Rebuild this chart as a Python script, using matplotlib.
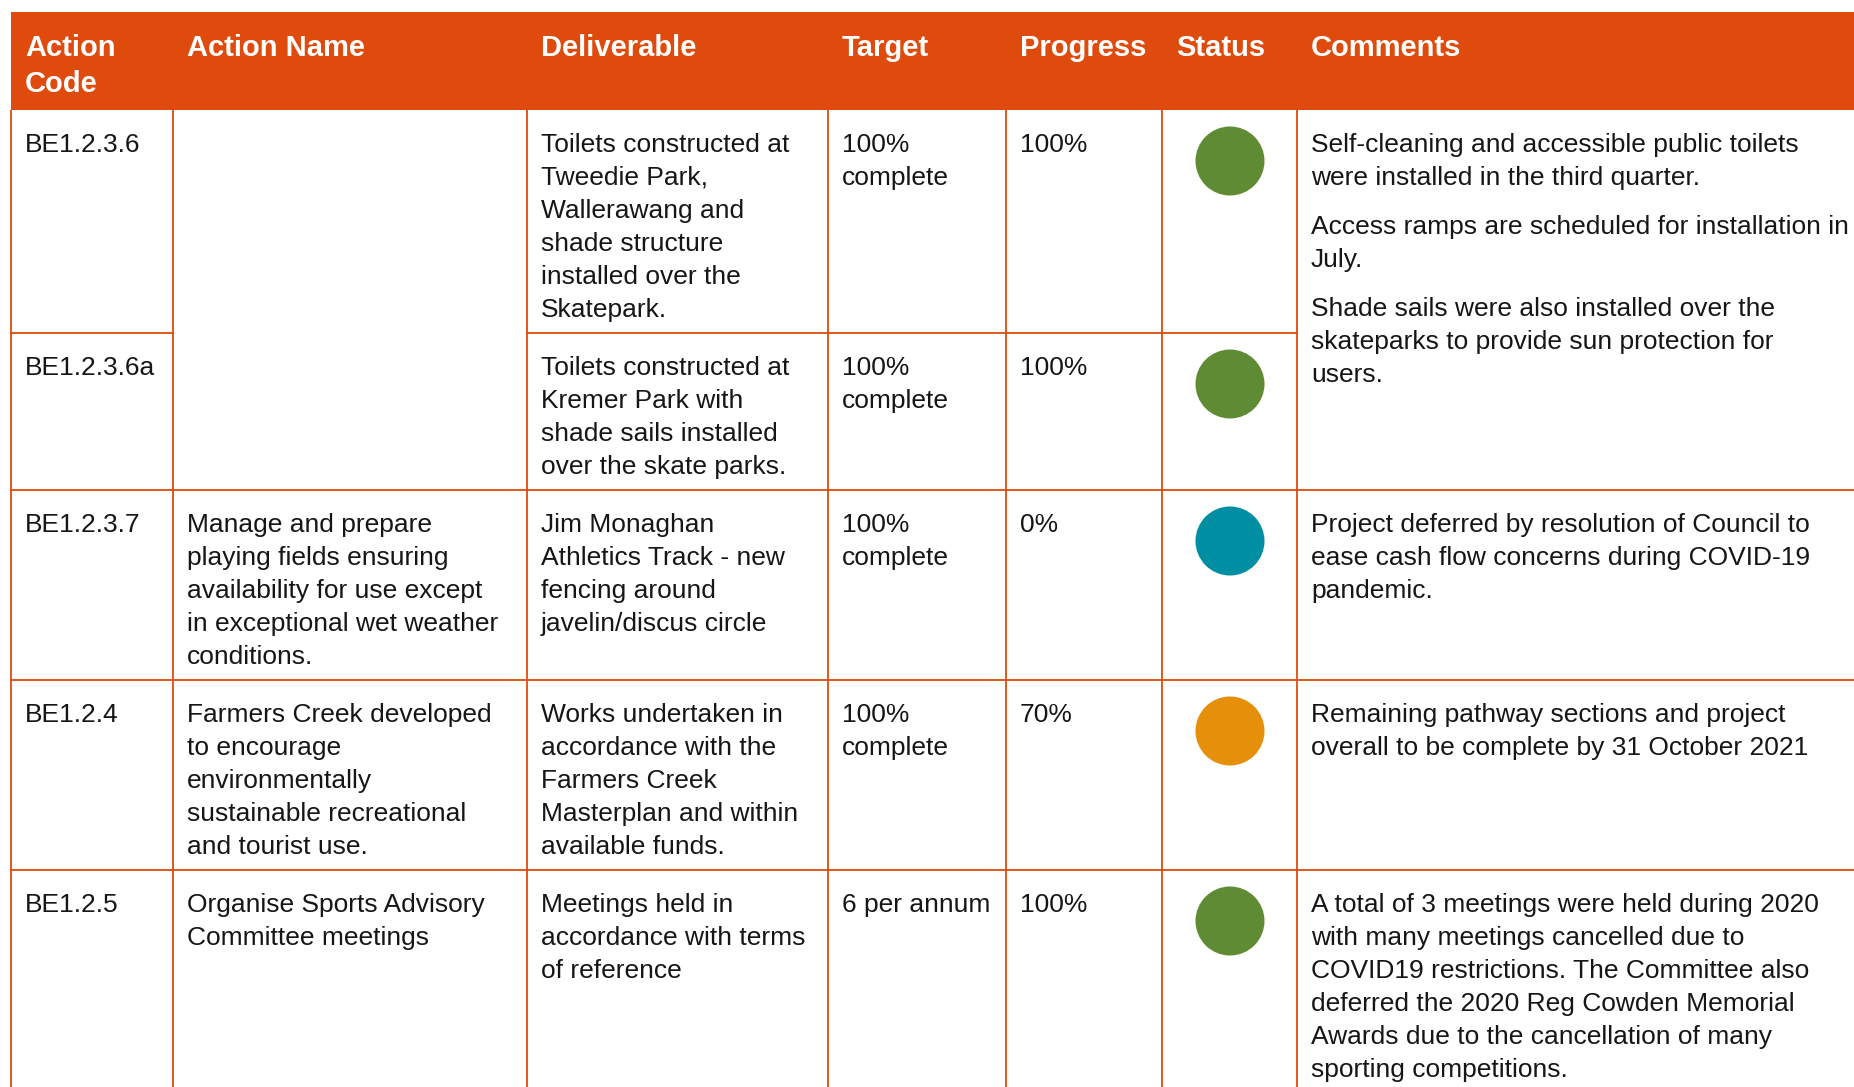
import matplotlib.pyplot as plt
from matplotlib.patches import Rectangle, Circle

plt.rcParams['font.family'] = ['Liberation Sans', 'DejaVu Sans']

# Table content
headers = [["Action", "Code"], ["Action Name"], ["Deliverable"], ["Target"],
           ["Progress"], ["Status"], ["Comments"]]

codes = ["BE1.2.3.6", "BE1.2.3.6a", "BE1.2.3.7", "BE1.2.4", "BE1.2.5"]

action_names = [
    [],
    [],
    ["Manage and prepare", "playing fields ensuring", "availability for use except",
     "in exceptional wet weather", "conditions."],
    ["Farmers Creek developed", "to encourage", "environmentally",
     "sustainable recreational", "and tourist use."],
    ["Organise Sports Advisory", "Committee meetings"],
]

deliverables = [
    ["Toilets constructed at", "Tweedie Park,", "Wallerawang and", "shade structure",
     "installed over the", "Skatepark."],
    ["Toilets constructed at", "Kremer Park with", "shade sails installed",
     "over the skate parks."],
    ["Jim Monaghan", "Athletics Track - new", "fencing around", "javelin/discus circle"],
    ["Works undertaken in", "accordance with the", "Farmers Creek",
     "Masterplan and within", "available funds."],
    ["Meetings held in", "accordance with terms", "of reference"],
]

targets = [["100%", "complete"], ["100%", "complete"], ["100%", "complete"],
           ["100%", "complete"], ["6 per annum"]]

progress = ["100%", "100%", "0%", "70%", "100%"]

status = ["green", "green", "teal", "amber", "green"]
status_colors = {"green": "#5e8b33", "teal": "#008fa2", "amber": "#e58f0a"}

# comments: (first row, paragraphs); rows 1 and 2 share one merged cell
comments = [
    (0, [["Self-cleaning and accessible public toilets",
          "were installed in the third quarter."],
         ["Access ramps are scheduled for installation in", "July."],
         ["Shade sails were also installed over the",
          "skateparks to provide sun protection for", "users."]]),
    (2, [["Project deferred by resolution of Council to",
          "ease cash flow concerns during COVID-19", "pandemic."]]),
    (3, [["Remaining pathway sections and project",
          "overall to be complete by 31 October 2021"]]),
    (4, [["A total of 3 meetings were held during 2020",
          "with many meetings cancelled due to",
          "COVID19 restrictions. The Committee also",
          "deferred the 2020 Reg Cowden Memorial",
          "Awards due to the cancellation of many",
          "sporting competitions."]]),
]

# Layout (pixels)
W, H = 1854, 1087
col_x = [11, 173, 527, 828, 1006, 1162, 1297, W]
head_top, head_bot = 12, 110
row_y = [110, 333, 490, 680, 870, H]
pad = 14
line_h = 33
para_gap = 16
first_base = 42
orange = "#de4b0c"
txt = "#161616"
body_fs = 19
head_fs = 21

fig = plt.figure(figsize=(W / 100, H / 100), dpi=100)
ax = fig.add_axes([0, 0, 1, 1])
ax.set_xlim(0, W)
ax.set_ylim(H, 0)
ax.axis('off')

# header band
ax.add_patch(Rectangle((col_x[0], head_top), W - col_x[0], head_bot - head_top,
                       facecolor=orange, edgecolor='none'))
for c, lines in enumerate(headers):
    for i, s in enumerate(lines):
        ax.text(col_x[c] + pad, head_top + 44 + i * 36, s, color='white',
                fontsize=head_fs, fontweight='bold', va='baseline', ha='left')

# grid lines
lw = 1.3
for x in col_x[:-1]:
    ax.plot([x, x], [head_bot, H], color=orange, lw=lw, solid_capstyle='butt')
for k, y in enumerate(row_y[1:-1], start=1):
    if k == 1:
        # merged cells in Action Name and Comments
        ax.plot([col_x[0], col_x[1]], [y, y], color=orange, lw=lw)
        ax.plot([col_x[2], col_x[6]], [y, y], color=orange, lw=lw)
    else:
        ax.plot([col_x[0], W], [y, y], color=orange, lw=lw)


def put_lines(x, y0, lines):
    for i, s in enumerate(lines):
        ax.text(x, y0 + i * line_h, s, color=txt, fontsize=body_fs,
                va='baseline', ha='left')


for r in range(len(codes)):
    top = row_y[r]
    base = top + first_base
    put_lines(col_x[0] + pad, base, [codes[r]])
    put_lines(col_x[1] + pad, base, action_names[r])
    put_lines(col_x[2] + pad, base, deliverables[r])
    put_lines(col_x[3] + pad, base, targets[r])
    put_lines(col_x[4] + pad, base, [progress[r]])
    cx = (col_x[5] + col_x[6]) / 2 + 0.5
    ax.add_patch(Circle((cx, top + 51), 34.5, facecolor=status_colors[status[r]],
                        edgecolor='none'))

for r, paras in comments:
    y = row_y[r] + first_base
    for p in paras:
        put_lines(col_x[6] + pad, y, p)
        y += len(p) * line_h + para_gap

fig.savefig("out.png", dpi=100)
